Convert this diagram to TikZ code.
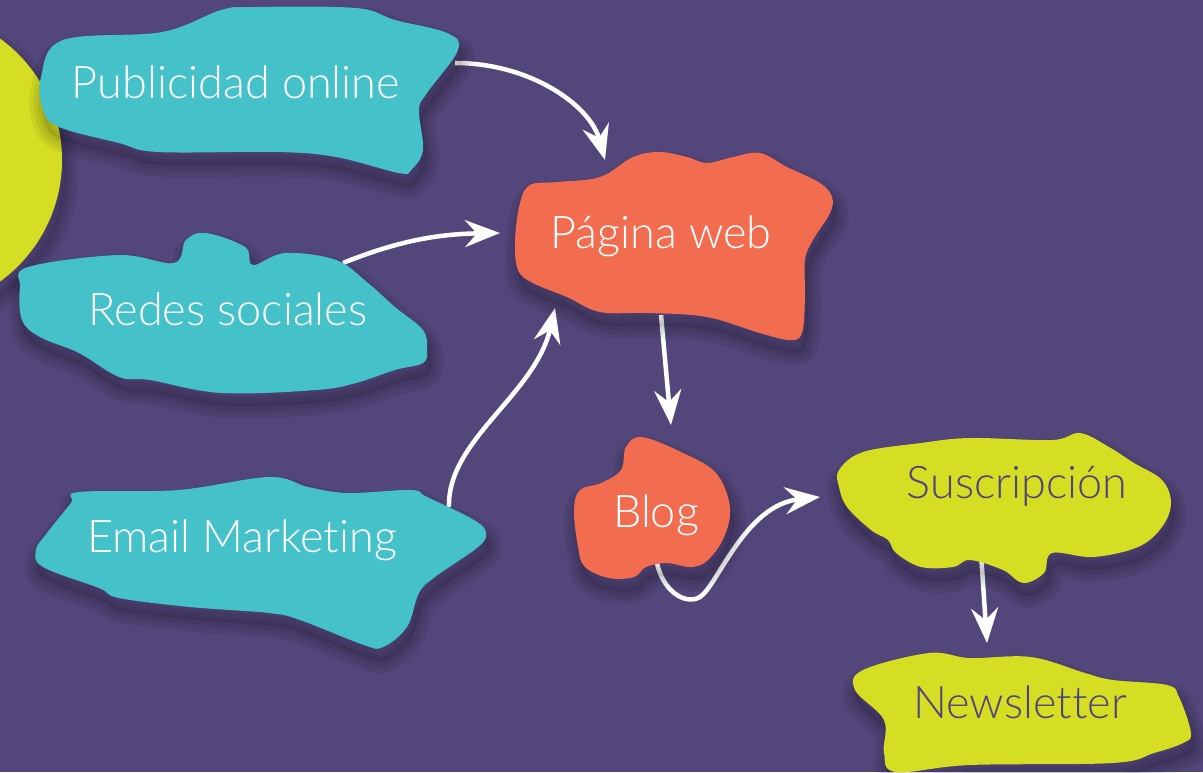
\documentclass[tikz,border=0pt]{standalone}
\usepackage{fontspec}
\setmainfont{Lato Light}[Ligatures=NoCommon]
\usetikzlibrary{arrows.meta}

\definecolor{bgpurple}{RGB}{82,70,122}
\definecolor{blobteal}{RGB}{69,194,201}
\definecolor{blobcoral}{RGB}{242,109,80}
\definecolor{bloblime}{RGB}{213,222,34}
\definecolor{inkpurple}{RGB}{82,66,125}

\tikzset{
  shade layer/.style={draw=black, opacity=0.06, line join=round,
      shift={(3,12)}},
  label/.style={anchor=base, inner sep=0pt, font=\fontsize{45}{54}\selectfont},
  link/.style={draw=white, line width=4.5pt,
      -{Stealth[length=35pt,width=27pt,inset=12pt]}},
}

% a filled blob outline with a soft drop shadow below it
\newcommand{\softblob}[2]{%
  \foreach \w in {26,18,10,3}{%
    \path[shade layer, line width=\w pt]
      plot[smooth cycle, tension=0.6] coordinates {#2};}%
  \fill[black, opacity=0.06, shift={(3,12)}]
    plot[smooth cycle, tension=0.6] coordinates {#2};%
  \fill[#1] plot[smooth cycle, tension=0.6] coordinates {#2};%
}

\begin{document}
\begin{tikzpicture}[x=1pt,y=-1pt]
\useasboundingbox (0,0) rectangle (1203,772);
\fill[bgpurple] (0,0) rectangle (1203,772);

% connector end points on the blob outlines
\coordinate (pubOut) at (455,63);
\coordinate (redesOut) at (343,263);
\coordinate (emailOut) at (449,507);
\coordinate (webInA) at (605,160);
\coordinate (webInB) at (500,233);
\coordinate (webInC) at (555,308);
\coordinate (webOut) at (661,315);
\coordinate (blogIn) at (671,425);
\coordinate (blogOut) at (656,557);
\coordinate (blogLow) at (700,597);
\coordinate (suscIn) at (820,497);
\coordinate (suscOut) at (981,553);
\coordinate (newsIn) at (987,643);

% connectors, drawn first so the blobs cover their starts
\draw[link] (pubOut) .. controls (530,63) and (590,105) .. (webInA);
\draw[link] (redesOut) .. controls (400,240) and (440,234) .. (webInB);
\draw[link] (emailOut) .. controls (447,440) and (535,395) .. (webInC);
\draw[link] (webOut) -- (blogIn);
\draw[link] (blogOut) .. controls (660,590) and (685,606) .. (blogLow)
                      .. controls (718,585) and (745,505) .. (suscIn);
\draw[link] (suscOut) -- (newsIn);

% decorative disc on the left edge
\foreach \w in {26,18,10,3}{%
  \path[shade layer, line width=\w pt] (-88,160) circle [radius=150pt];}
\fill[bloblime] (-88,160) circle [radius=150pt];

% blobs
\softblob{blobteal}{
  (63,40) (162,32) (221,10) (253,7) (356,8) (395,20) (447,33) (458,50)
  (427,93) (419,110) (423,150) (411,170) (399,173) (336,157) (277,152)
  (158,152) (119,143) (59,127) (43,110) (41,77)}
\softblob{blobteal}{
  (28,267) (119,255) (174,263) (186,240) (206,233) (245,247) (253,265)
  (285,253) (336,260) (368,283) (395,307) (423,330) (427,350) (423,363)
  (395,370) (356,383) (316,390) (221,393) (150,380) (119,377) (79,353)
  (40,337) (22,320) (20,287)}
\softblob{blobteal}{
  (79,492) (178,490) (269,477) (308,487) (348,493) (411,490) (427,497)
  (474,520) (486,533) (478,547) (435,577) (419,593) (407,627) (383,647)
  (364,645) (300,620) (269,613) (190,607) (119,598) (99,588) (43,567)
  (36,550) (47,533) (71,503)}
\softblob{blobcoral}{
  (530,185) (557,182) (600,177) (633,157) (660,152) (687,157) (707,163)
  (733,157) (760,153) (787,167) (820,183) (832,197) (830,213) (813,240)
  (805,260) (805,297) (802,333) (790,340) (760,333) (707,317) (650,313)
  (600,312) (567,297) (533,283) (518,270) (515,240) (520,203)}
\softblob{blobcoral}{
  (642,437) (683,453) (716,473) (730,507) (724,537) (708,560) (691,567)
  (667,563) (646,567) (634,577) (609,578) (585,567) (578,547) (574,510)
  (580,490) (601,483) (621,470) (626,447)}
\softblob{bloblime}{
  (839,470) (863,452) (921,443) (970,438) (1052,440) (1080,433) (1109,447)
  (1134,463) (1162,480) (1171,503) (1162,527) (1138,547) (1093,557)
  (1052,553) (1044,573) (1023,583) (1003,570) (970,560) (953,567)
  (921,567) (896,553) (888,540) (871,530) (847,507) (839,487)}
\softblob{bloblime}{
  (863,670) (929,653) (970,658) (1031,657) (1085,673) (1113,680)
  (1167,685) (1179,697) (1191,733) (1183,743) (1154,753) (1113,763)
  (970,765) (896,772) (884,753) (884,720) (855,690)}

% labels
\node[label, white] (pub) at (236,98) {Publicidad online};
\node[label, white] (redes) at (228,325) {Redes sociales};
\node[label, white] (email) at (242,552) {Email Marketing};
\node[label, white] (web) at (661,248) {Página web};
\node[label, white] (blog) at (656,527) {Blog};
\node[label, inkpurple] (susc) at (1017,498) {Suscripción};
\node[label, inkpurple] (news) at (1020,718) {Newsletter};
\end{tikzpicture}
\end{document}
